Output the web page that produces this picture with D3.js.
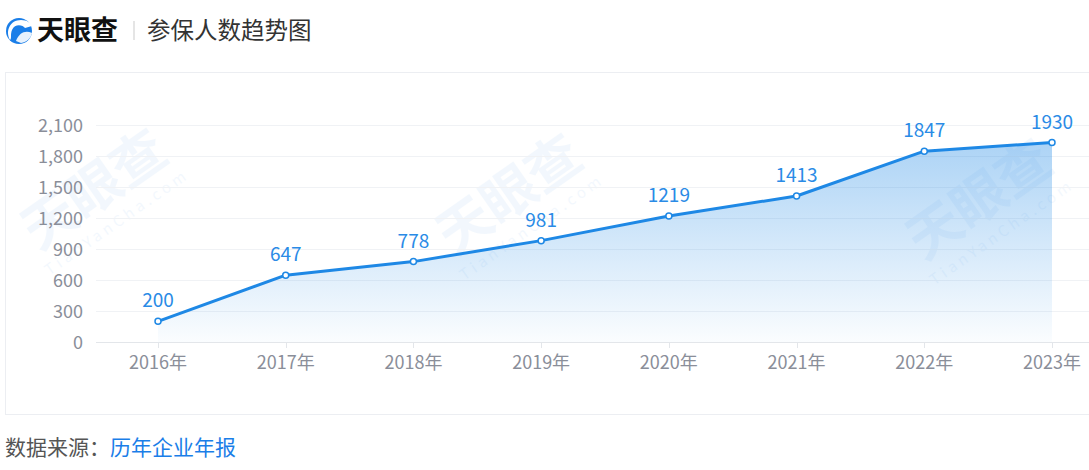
<!DOCTYPE html>
<html><head><meta charset="utf-8">
<script src="https://cdn.jsdelivr.net/npm/d3@7"></script>
<style>
html,body{margin:0;padding:0;background:#fff;overflow:hidden;}
body{width:1089px;height:470px;font-family:"Noto Sans CJK SC","Noto Sans",sans-serif;}
</style></head>
<body>
<svg id="c" width="1089" height="470"></svg>
<script>
const categories = ["2016年","2017年","2018年","2019年","2020年","2021年","2022年","2023年"];
const values = [200, 647, 778, 981, 1219, 1413, 1847, 1930];
const yTicks = [0, 300, 600, 900, 1200, 1500, 1800, 2100];
const titleText = "参保人数趋势图";
const brandText = "天眼查";
const sourceLabel = "数据来源：";
const sourceText = "历年企业年报";

const svg = d3.select("#c");
const font = '"Noto Sans CJK SC","Noto Sans",sans-serif';

// header
const logo = svg.append("g").attr("transform","translate(19,31)");
logo.append("circle").attr("r",13).attr("fill","#1a7ee8");
logo.append("path").attr("d","M-9,9 C-14,0 -9,-11 2,-11 C8,-11 12,-8 13,-5 L6,-3 C4,-6 -4,-8 -7,-1 C-9,4 -7,7 -9,9 Z").attr("fill","#fff");
logo.append("path").attr("d","M-3,10 C0,2 6,-1 13,2 C12,7 8,11 2,12 Z").attr("fill","#fff").attr("opacity",0.9);
svg.append("text").attr("x",37).attr("y",40).attr("font-family",font).attr("font-weight","bold")
  .attr("font-size",27).attr("fill","#111").text(brandText);
svg.append("line").attr("x1",134).attr("x2",134).attr("y1",21).attr("y2",40).attr("stroke","#ddd").attr("stroke-width",1.5);
svg.append("text").attr("x",147).attr("y",39).attr("font-family",font)
  .attr("font-size",23.5).attr("fill","#333").text(titleText);

// chart box
svg.append("rect").attr("x",5.5).attr("y",72.5).attr("width",1100).attr("height",342)
  .attr("fill","#fff").attr("stroke","#eceef2");

// footer
const ft = svg.append("text").attr("x",5).attr("y",455).attr("font-family",font).attr("font-size",21);
ft.append("tspan").attr("fill","#555").text(sourceLabel);
ft.append("tspan").attr("fill","#1a7ee8").text(sourceText);

// watermarks
const wm = [[105,205],[520,210],[990,215]];
wm.forEach(([x,y])=>{
  const g = svg.append("g").attr("transform",`translate(${x},${y}) rotate(-35)`).attr("opacity",0.05);
  g.append("text").attr("text-anchor","middle").attr("font-family",font).attr("font-weight","bold")
    .attr("font-size",54).attr("fill","#1a7ee8").text(brandText);
  g.append("text").attr("text-anchor","middle").attr("y",26).attr("font-family",font)
    .attr("font-size",15).attr("letter-spacing",4).attr("fill","#1a7ee8").text("TianYanCha.com");
});

const x = d3.scalePoint().domain(categories).range([158,1052]);
const y = d3.scaleLinear().domain([0,2100]).range([342,125]);

// grid
svg.append("g").selectAll("line").data(yTicks).join("line")
  .attr("x1",96).attr("x2",1089).attr("y1",d=>Math.round(y(d))+0.5).attr("y2",d=>Math.round(y(d))+0.5)
  .attr("stroke",d=>d===0?"#e3e6ea":"#f0f2f5").attr("stroke-width",1);

// y labels
svg.append("g").selectAll("text").data(yTicks).join("text")
  .attr("x",83).attr("y",d=>y(d)+6.5).attr("text-anchor","end").attr("font-family",font)
  .attr("font-size",18).attr("fill","#8a8e99").text(d=>d3.format(",")(d));

// x ticks
svg.append("g").selectAll("line").data(categories).join("line")
  .attr("x1",d=>Math.round(x(d))+0.5).attr("x2",d=>Math.round(x(d))+0.5).attr("y1",342).attr("y2",348)
  .attr("stroke","#e3e6ea");
svg.append("g").selectAll("text").data(categories).join("text")
  .attr("x",d=>x(d)).attr("y",369).attr("text-anchor","middle").attr("font-family",font)
  .attr("font-size",18).attr("fill","#8a8e99").text(d=>d);

// gradient
const defs = svg.append("defs");
const grad = defs.append("linearGradient").attr("id","ag")
  .attr("gradientUnits","userSpaceOnUse").attr("x1",0).attr("x2",0).attr("y1",y(2000)).attr("y2",y(0));
grad.append("stop").attr("offset","0%").attr("stop-color","#1e88e5").attr("stop-opacity",0.38);
grad.append("stop").attr("offset","100%").attr("stop-color","#1e88e5").attr("stop-opacity",0.02);

const data = categories.map((c,i)=>({c,v:values[i]}));
svg.append("path").datum(data)
  .attr("d",d3.area().x(d=>x(d.c)).y0(y(0)).y1(d=>y(d.v)))
  .attr("fill","url(#ag)");
svg.append("path").datum(data)
  .attr("d",d3.line().x(d=>x(d.c)).y(d=>y(d.v)))
  .attr("fill","none").attr("stroke","#1e88e5").attr("stroke-width",3).attr("stroke-linejoin","round");
svg.append("g").selectAll("circle").data(data).join("circle")
  .attr("cx",d=>x(d.c)).attr("cy",d=>y(d.v)).attr("r",3)
  .attr("fill","#fff").attr("stroke","#1e88e5").attr("stroke-width",1.5);
svg.append("g").selectAll("text").data(data).join("text")
  .attr("x",d=>x(d.c)).attr("y",d=>y(d.v)-14).attr("text-anchor","middle").attr("font-family",font)
  .attr("font-size",19).attr("fill","#2a8be6").text(d=>d.v);
</script>
</body></html>
